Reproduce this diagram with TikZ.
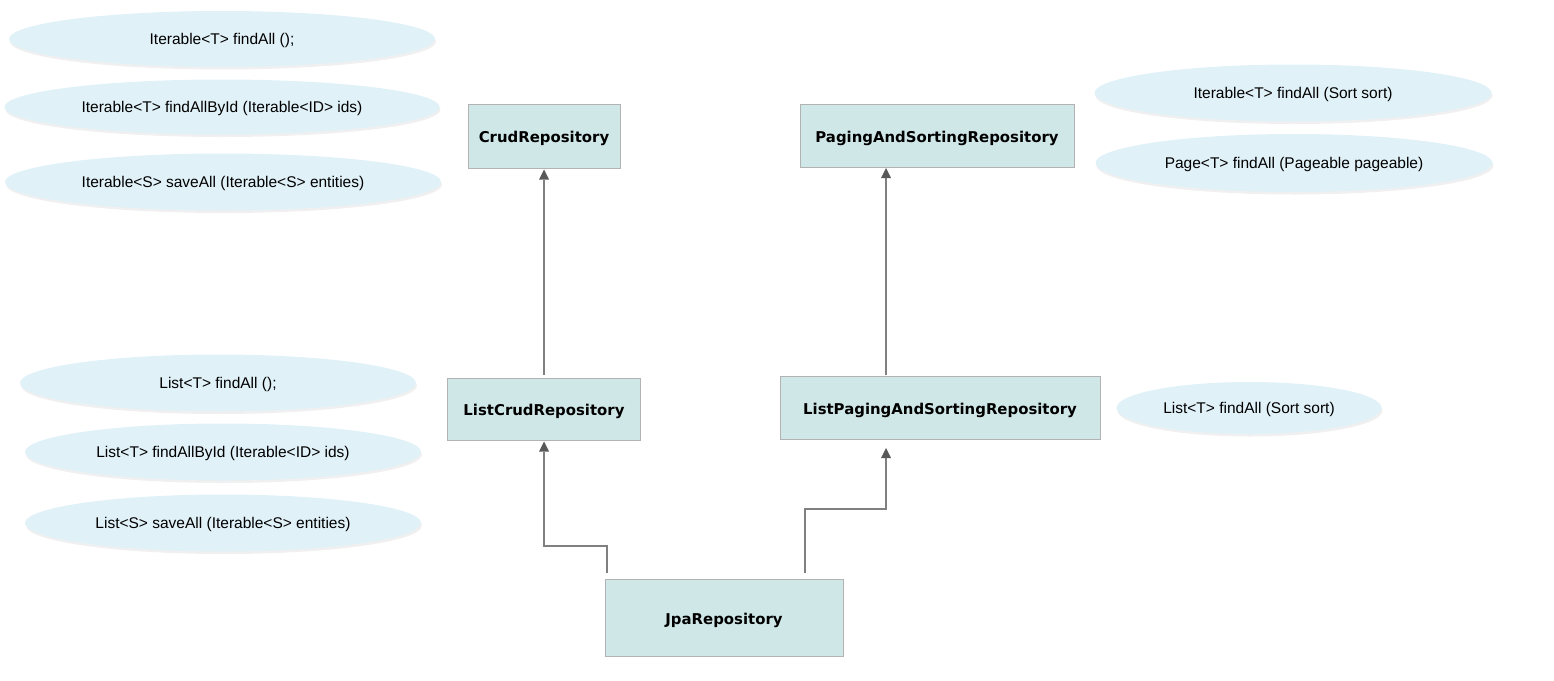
\documentclass[tikz,border=0pt]{standalone}
\usepackage{fontspec}
\setmainfont{Liberation Sans}
\newfontfamily\boxfont{DejaVu Sans}
\usepackage{tikz}
\usetikzlibrary{shapes.geometric,arrows.meta,shadows}

\definecolor{repofill}{HTML}{D0E7E8}
\definecolor{repoline}{HTML}{B3B3B3}
\definecolor{methfill}{HTML}{E1F1F8}
\definecolor{linkgray}{HTML}{808080}
\definecolor{tipgray}{HTML}{595959}

\tikzset{
  repo/.style={rectangle, draw=repoline, line width=1pt, fill=repofill, inner sep=0pt,
    text height=13.4pt, text depth=0pt,
    font=\boxfont\bfseries\fontsize{14.9}{16}\selectfont},
  meth/.style={ellipse, fill=methfill, inner sep=0pt,
    text height=10.8pt, text depth=0pt,
    drop shadow={opacity=0.12, shadow xshift=1pt, shadow yshift=-2.5pt},
    font=\fontsize{15.5}{16}\selectfont},
  link/.style={draw=linkgray, line width=1.4pt,
    -{Triangle[length=10pt, width=10pt, color=tipgray, line width=0pt]}},
}

\begin{document}
\begin{tikzpicture}[x=1pt, y=-1pt]
        \useasboundingbox (0,0) rectangle (1554,680);

        \node [repo, minimum width=152, minimum height=64]  (crud)    at (544,136)  {CrudRepository};              %
        \node [repo, minimum width=274, minimum height=63]  (paging)  at (937,136)  {PagingAndSortingRepository};  %
        \node [repo, minimum width=193, minimum height=62]  (lcrud)   at (544,409)  {ListCrudRepository};          %
        \node [repo, minimum width=320, minimum height=63]  (lpaging) at (940,408)  {ListPagingAndSortingRepository}; %
        \node [repo, minimum width=238, minimum height=77]  (jpa)     at (724,618)  {JpaRepository};               %

        \node [meth, minimum width=426, minimum height=56] (crudall)   at (222,39)   {Iterable<T> findAll ();};                        %CRUD
        \node [meth, minimum width=435, minimum height=55] (crudbyid)  at (222,107)  {Iterable<T> findAllById (Iterable<ID> ids)};      %
        \node [meth, minimum width=436, minimum height=57] (crudsave)  at (223,182)  {Iterable<S> saveAll (Iterable<S> entities)};     %
        \node [meth, minimum width=397, minimum height=57] (pagesort)  at (1293,93)  {Iterable<T> findAll (Sort sort)};                %PAGING
        \node [meth, minimum width=397, minimum height=58] (pagepage)  at (1294,163) {Page<T> findAll (Pageable pageable)};            %
        \node [meth, minimum width=396, minimum height=57] (lcrudall)  at (218,383)  {List<T> findAll ();};                            %LIST CRUD
        \node [meth, minimum width=396, minimum height=57] (lcrudbyid) at (223,452)  {List<T> findAllById (Iterable<ID> ids)};         %
        \node [meth, minimum width=396, minimum height=57] (lcrudsave) at (223,523)  {List<S> saveAll (Iterable<S> entities)};         %
        \node [meth, minimum width=265, minimum height=52] (lpagesort) at (1249,408) {List<T> findAll (Sort sort)};                    %LIST PAGING

        \draw [link, shorten <=3pt, shorten >=1pt] (lcrud.north) -- (crud.south);                                   %
        \draw [link, shorten <=1pt] ([xshift=-54pt]lpaging.north) -- ([xshift=-51pt]paging.south);                  %
        \draw [link, shorten <=6pt, shorten >=1pt] ([xshift=-117pt]jpa.north) -- ++(0,-33) -| (lcrud.south);        %
        \draw [link, shorten <=6pt, shorten >=8pt] ([xshift=81pt]jpa.north) -- ++(0,-70) -| ([xshift=-54pt]lpaging.south);
      \end{tikzpicture}
\end{document}
